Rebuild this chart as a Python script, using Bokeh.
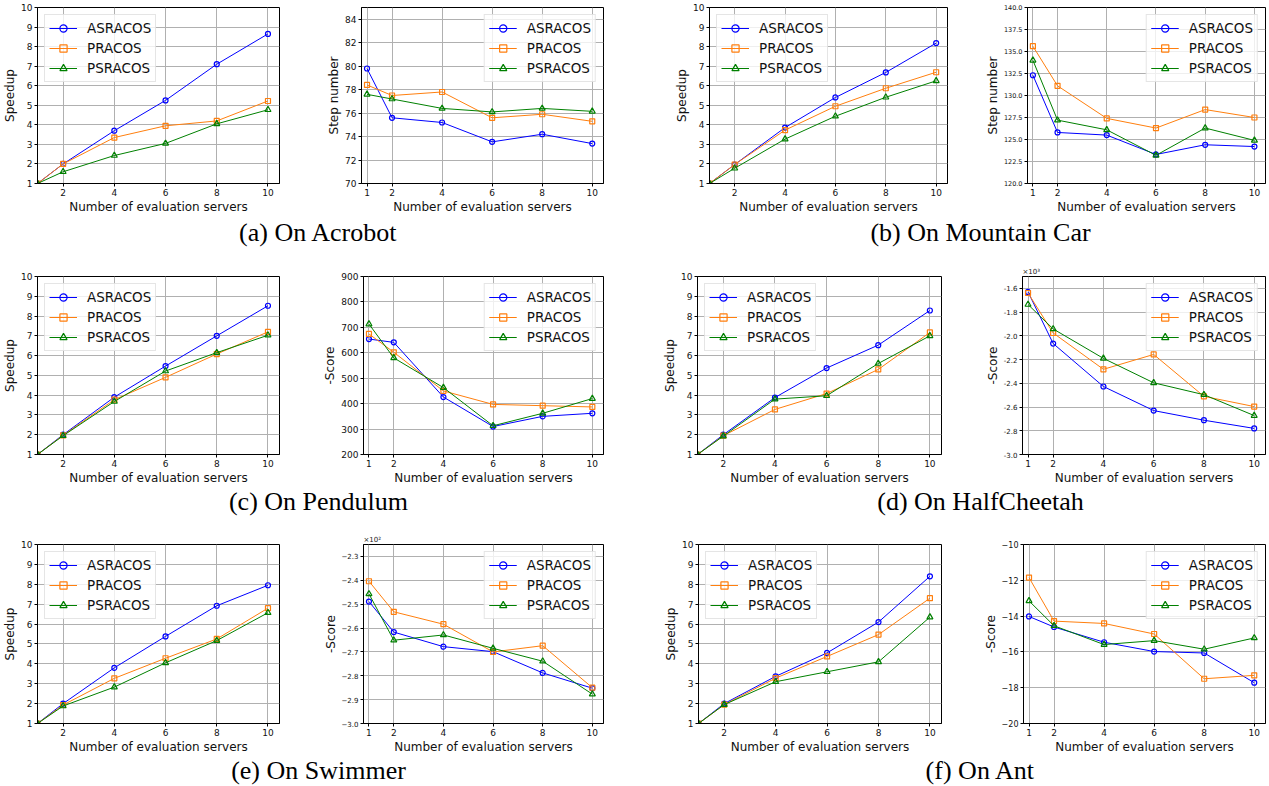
from bokeh.plotting import figure
from bokeh.models import FixedTicker, Legend, LegendItem, Label, Range1d
from bokeh.layouts import column, row
from bokeh.embed import file_html
from bokeh.resources import INLINE

# ---------------- data ----------------
servers = [1, 2, 4, 6, 8, 10]
series_names = ["ASRACOS", "PRACOS", "PSRACOS"]

# (a) Acrobot
acrobot_speedup_asracos = [1.0, 2.0, 3.7, 5.25, 7.1, 8.65]
acrobot_speedup_pracos = [1.0, 2.0, 3.35, 3.95, 4.2, 5.22]
acrobot_speedup_psracos = [1.0, 1.6, 2.43, 3.05, 4.05, 4.77]
acrobot_steps_asracos = [79.8, 75.6, 75.2, 73.55, 74.2, 73.4]
acrobot_steps_pracos = [78.4, 77.5, 77.8, 75.6, 75.9, 75.3]
acrobot_steps_psracos = [77.6, 77.2, 76.4, 76.1, 76.4, 76.15]

# (b) Mountain Car
mcar_speedup_asracos = [1.0, 1.97, 3.86, 5.4, 6.68, 8.18]
mcar_speedup_pracos = [1.0, 1.97, 3.73, 4.95, 5.87, 6.69]
mcar_speedup_psracos = [1.0, 1.78, 3.27, 4.44, 5.41, 6.25]
mcar_steps_asracos = [132.3, 125.8, 125.5, 123.3, 124.4, 124.2]
mcar_steps_pracos = [135.6, 131.1, 127.4, 126.3, 128.4, 127.5]
mcar_steps_psracos = [134.0, 127.2, 126.1, 123.2, 126.3, 124.9]

# (c) Pendulum
pend_speedup_asracos = [1.0, 2.0, 3.9, 5.47, 7.0, 8.52]
pend_speedup_pracos = [1.0, 1.97, 3.77, 4.9, 6.08, 7.2]
pend_speedup_psracos = [1.0, 1.95, 3.68, 5.22, 6.15, 7.03]
pend_score_asracos = [654, 641, 426, 310, 350, 362]
pend_score_pracos = [674, 602, 450, 397, 392, 387]
pend_score_psracos = [713, 580, 463, 313, 362, 420]

# (d) HalfCheetah (score in units of 10^3)
hc_speedup_asracos = [1.0, 2.0, 3.88, 5.37, 6.53, 8.28]
hc_speedup_pracos = [1.0, 1.95, 3.28, 4.08, 5.3, 7.17]
hc_speedup_psracos = [1.0, 1.93, 3.8, 3.97, 5.6, 7.0]
hc_score_asracos = [-1.63, -2.065, -2.427, -2.63, -2.711, -2.78]
hc_score_pracos = [-1.639, -1.976, -2.282, -2.157, -2.51, -2.596]
hc_score_psracos = [-1.736, -1.942, -2.19, -2.396, -2.496, -2.672]

# (e) Swimmer (score in units of 10^2)
sw_speedup_asracos = [1.0, 2.0, 3.8, 5.38, 6.92, 7.95]
sw_speedup_pracos = [1.0, 1.93, 3.27, 4.28, 5.25, 6.8]
sw_speedup_psracos = [1.0, 1.88, 2.83, 4.05, 5.17, 6.57]
sw_score_asracos = [-2.489, -2.617, -2.678, -2.699, -2.788, -2.852]
sw_score_pracos = [-2.404, -2.532, -2.584, -2.70, -2.674, -2.85]
sw_score_psracos = [-2.457, -2.651, -2.629, -2.685, -2.739, -2.877]

# (f) Ant
ant_speedup_asracos = [1.0, 2.0, 3.37, 4.55, 6.1, 8.4]
ant_speedup_pracos = [1.0, 1.95, 3.28, 4.37, 5.47, 7.3]
ant_speedup_psracos = [1.0, 1.95, 3.1, 3.6, 4.1, 6.35]
ant_score_asracos = [-14.02, -14.61, -15.46, -15.98, -16.06, -17.72]
ant_score_pracos = [-11.85, -14.28, -14.41, -15.0, -17.5, -17.31]
ant_score_psracos = [-13.15, -14.54, -15.59, -15.37, -15.85, -15.22]

# ticks
speedup_xticks = [2, 4, 6, 8, 10]
score_xticks = [1, 2, 4, 6, 8, 10]
speedup_yticks = [1, 2, 3, 4, 5, 6, 7, 8, 9, 10]
speedup_ylabels = ["1", "2", "3", "4", "5", "6", "7", "8", "9", "10"]
acrobot_yticks = [70, 72, 74, 76, 78, 80, 82, 84]
acrobot_ylabels = ["70", "72", "74", "76", "78", "80", "82", "84"]
mcar_yticks = [120.0, 122.5, 125.0, 127.5, 130.0, 132.5, 135.0, 137.5, 140.0]
mcar_ylabels = ["120.0", "122.5", "125.0", "127.5", "130.0", "132.5", "135.0", "137.5", "140.0"]
pend_yticks = [200, 300, 400, 500, 600, 700, 800, 900]
pend_ylabels = ["200", "300", "400", "500", "600", "700", "800", "900"]
hc_yticks = [-3.0, -2.8, -2.6, -2.4, -2.2, -2.0, -1.8, -1.6]
hc_ylabels = ["-3.0", "-2.8", "-2.6", "-2.4", "-2.2", "-2.0", "-1.8", "-1.6"]
sw_yticks = [-3.0, -2.9, -2.8, -2.7, -2.6, -2.5, -2.4, -2.3]
sw_ylabels = ["\u22123.0", "\u22122.9", "\u22122.8", "\u22122.7", "\u22122.6", "\u22122.5", "\u22122.4", "\u22122.3"]
ant_yticks = [-20, -18, -16, -14, -12, -10]
ant_ylabels = ["\u221220", "\u221218", "\u221216", "\u221214", "\u221212", "\u221210"]

captions = ["(a) On Acrobot", "(b) On Mountain Car", "(c) On Pendulum",
            "(d) On HalfCheetah", "(e) On Swimmer", "(f) On Ant"]

# ---------------- styling ----------------
COLORS = ["#0000ff", "#ff7f0e", "#008000"]
MARKERS = ["circle", "square", "triangle"]
SIZES = [5, 5, 6]
FONT = "DejaVu Sans"


def panel(width, height, borders, xr, xticks, yr, yticks, ylabels, ylabel,
          ydata, legend_loc, ytick_size="9px", mult=None):
    left, right, top, bottom = borders
    p = figure(width=width, height=height, output_backend="svg", toolbar_location=None,
               x_range=Range1d(*xr), y_range=Range1d(*yr),
               min_border_left=left, min_border_right=right,
               min_border_top=top, min_border_bottom=bottom)
    p.outline_line_color = "black"
    p.outline_line_width = 1
    p.outline_line_alpha = 1.0
    p.background_fill_color = "white"
    p.border_fill_color = "white"

    p.xaxis.ticker = FixedTicker(ticks=xticks)
    p.yaxis.ticker = FixedTicker(ticks=yticks)
    overrides = {}
    for t, l in zip(yticks, ylabels):
        overrides[float(t)] = l
        overrides[f"{t:g}"] = l
    p.yaxis.major_label_overrides = overrides

    for ax in (p.xaxis, p.yaxis):
        ax.axis_line_color = "black"
        ax.major_tick_line_color = "black"
        ax.major_tick_out = 3
        ax.major_tick_in = 0
        ax.minor_tick_line_color = None
        ax.major_label_text_font = FONT
        ax.major_label_text_color = "#111111"
        ax.axis_label_text_font = FONT
        ax.axis_label_text_font_style = "normal"
        ax.axis_label_text_font_size = "12px"
        ax.axis_label_text_color = "#111111"
        ax.major_label_standoff = 2
        ax.axis_label_standoff = 1
    p.xaxis.major_label_text_font_size = "9px"
    p.yaxis.major_label_text_font_size = ytick_size
    p.xaxis.axis_label = "Number of evaluation servers"
    p.yaxis.axis_label = ylabel

    p.grid.grid_line_color = "#b0b0b0"
    p.grid.grid_line_width = 1

    items = []
    for name, ys, c, m, s in zip(series_names, ydata, COLORS, MARKERS, SIZES):
        ln = p.line(servers, ys, line_color=c, line_width=1)
        sc = p.scatter(servers, ys, marker=m, size=s,
                       line_color=c, fill_alpha=0, line_width=1.2)
        items.append(LegendItem(label=name, renderers=[ln, sc]))
    leg = Legend(items=items, location=legend_loc, margin=7, padding=4, spacing=2,
                 glyph_width=28, glyph_height=18, label_height=18, label_standoff=10,
                 label_text_font=FONT, label_text_font_size="13.5px",
                 label_text_color="#111111",
                 border_line_color="#cccccc", border_line_width=1,
                 background_fill_color="white", background_fill_alpha=0.8)
    p.add_layout(leg)

    if mult is not None:
        p.title.text = mult
        p.title.align = "left"
        p.title.text_font = FONT
        p.title.text_font_size = "7px"
        p.title.text_font_style = "normal"
        p.title.text_color = "#222222"
        p.title.standoff = 1
    return p


SP_X = (1, 10.45)
SC_X = (0.78, 10.45)

# Row 1 (height 217)
a1 = panel(320, 217, (37, 41, 5, 33), SP_X, speedup_xticks, (1, 10), speedup_yticks, speedup_ylabels,
           "Speedup", [acrobot_speedup_asracos, acrobot_speedup_pracos, acrobot_speedup_psracos], "top_left")
a2 = panel(320, 217, (41, 37, 5, 33), SC_X, score_xticks, (70, 85), acrobot_yticks, acrobot_ylabels,
           "Step number", [acrobot_steps_asracos, acrobot_steps_pracos, acrobot_steps_psracos], "top_right")
b1 = panel(310, 217, (69, 3, 7, 34), SP_X, speedup_xticks, (1, 10), speedup_yticks, speedup_ylabels,
           "Speedup", [mcar_speedup_asracos, mcar_speedup_pracos, mcar_speedup_psracos], "top_left")
b2 = panel(319, 217, (77, 4, 7, 34), SC_X, score_xticks, (120, 140), mcar_yticks, mcar_ylabels,
           "Step number", [mcar_steps_asracos, mcar_steps_pracos, mcar_steps_psracos], "top_right",
           ytick_size="6.5px")

# Row 2 (height 237)
c1 = panel(320, 237, (37, 41, 24, 33), SP_X, speedup_xticks, (1, 10), speedup_yticks, speedup_ylabels,
           "Speedup", [pend_speedup_asracos, pend_speedup_pracos, pend_speedup_psracos], "top_left")
c2 = panel(320, 237, (41, 37, 24, 33), SC_X, score_xticks, (200, 900), pend_yticks, pend_ylabels,
           "-Score", [pend_score_asracos, pend_score_pracos, pend_score_psracos], "top_right")
d1 = panel(310, 237, (57, 9, 24, 33), SP_X, speedup_xticks, (1, 10), speedup_yticks, speedup_ylabels,
           "Speedup", [hc_speedup_asracos, hc_speedup_pracos, hc_speedup_psracos], "top_left")
d2 = panel(319, 237, (72, 4, 26, 33), SC_X, score_xticks, (-3.0, -1.5), hc_yticks, hc_ylabels,
           "-Score", [hc_score_asracos, hc_score_pracos, hc_score_psracos], "top_right",
           ytick_size="7px", mult="\u00d710\u00b3")

# Row 3 (height 238)
e1 = panel(320, 238, (37, 41, 26, 32), SP_X, speedup_xticks, (1, 10), speedup_yticks, speedup_ylabels,
           "Speedup", [sw_speedup_asracos, sw_speedup_pracos, sw_speedup_psracos], "top_left")
e2 = panel(320, 238, (41, 37, 26, 32), SC_X, score_xticks, (-3.0, -2.25), sw_yticks, sw_ylabels,
           "-Score", [sw_score_asracos, sw_score_pracos, sw_score_psracos], "top_right",
           ytick_size="7px", mult="\u00d710\u00b2")
f1 = panel(310, 238, (58, 9, 26, 32), SP_X, speedup_xticks, (1, 10), speedup_yticks, speedup_ylabels,
           "Speedup", [ant_speedup_asracos, ant_speedup_pracos, ant_speedup_psracos], "top_left")
f2 = panel(319, 238, (73, 4, 26, 32), SC_X, score_xticks, (-20, -10), ant_yticks, ant_ylabels,
           "-Score", [ant_score_asracos, ant_score_pracos, ant_score_psracos], "top_right",
           ytick_size="8px")


def caption_row(height, left_text, right_text, ymid):
    c = figure(width=1269, height=height, output_backend="svg", toolbar_location=None,
               x_range=Range1d(0, 1269), y_range=Range1d(0, height),
               x_axis_type=None, y_axis_type=None, min_border=0)
    c.grid.visible = False
    c.outline_line_color = None
    c.border_fill_color = "white"
    for txt, xc in ((left_text, 318), (right_text, 980)):
        c.add_layout(Label(x=xc, y=height - ymid, text=txt, text_font="Liberation Serif",
                           text_font_size="26px", text_color="black",
                           text_align="center", text_baseline="middle"))
    return c


cap1 = caption_row(33, captions[0], captions[1], 15)
cap2 = caption_row(31, captions[2], captions[3], 14)
cap3 = caption_row(30, captions[4], captions[5], 14)

layout = column(row(a1, a2, b1, b2), cap1,
                row(c1, c2, d1, d2), cap2,
                row(e1, e2, f1, f2), cap3)

open("out.html", "w").write(file_html(layout, INLINE))
